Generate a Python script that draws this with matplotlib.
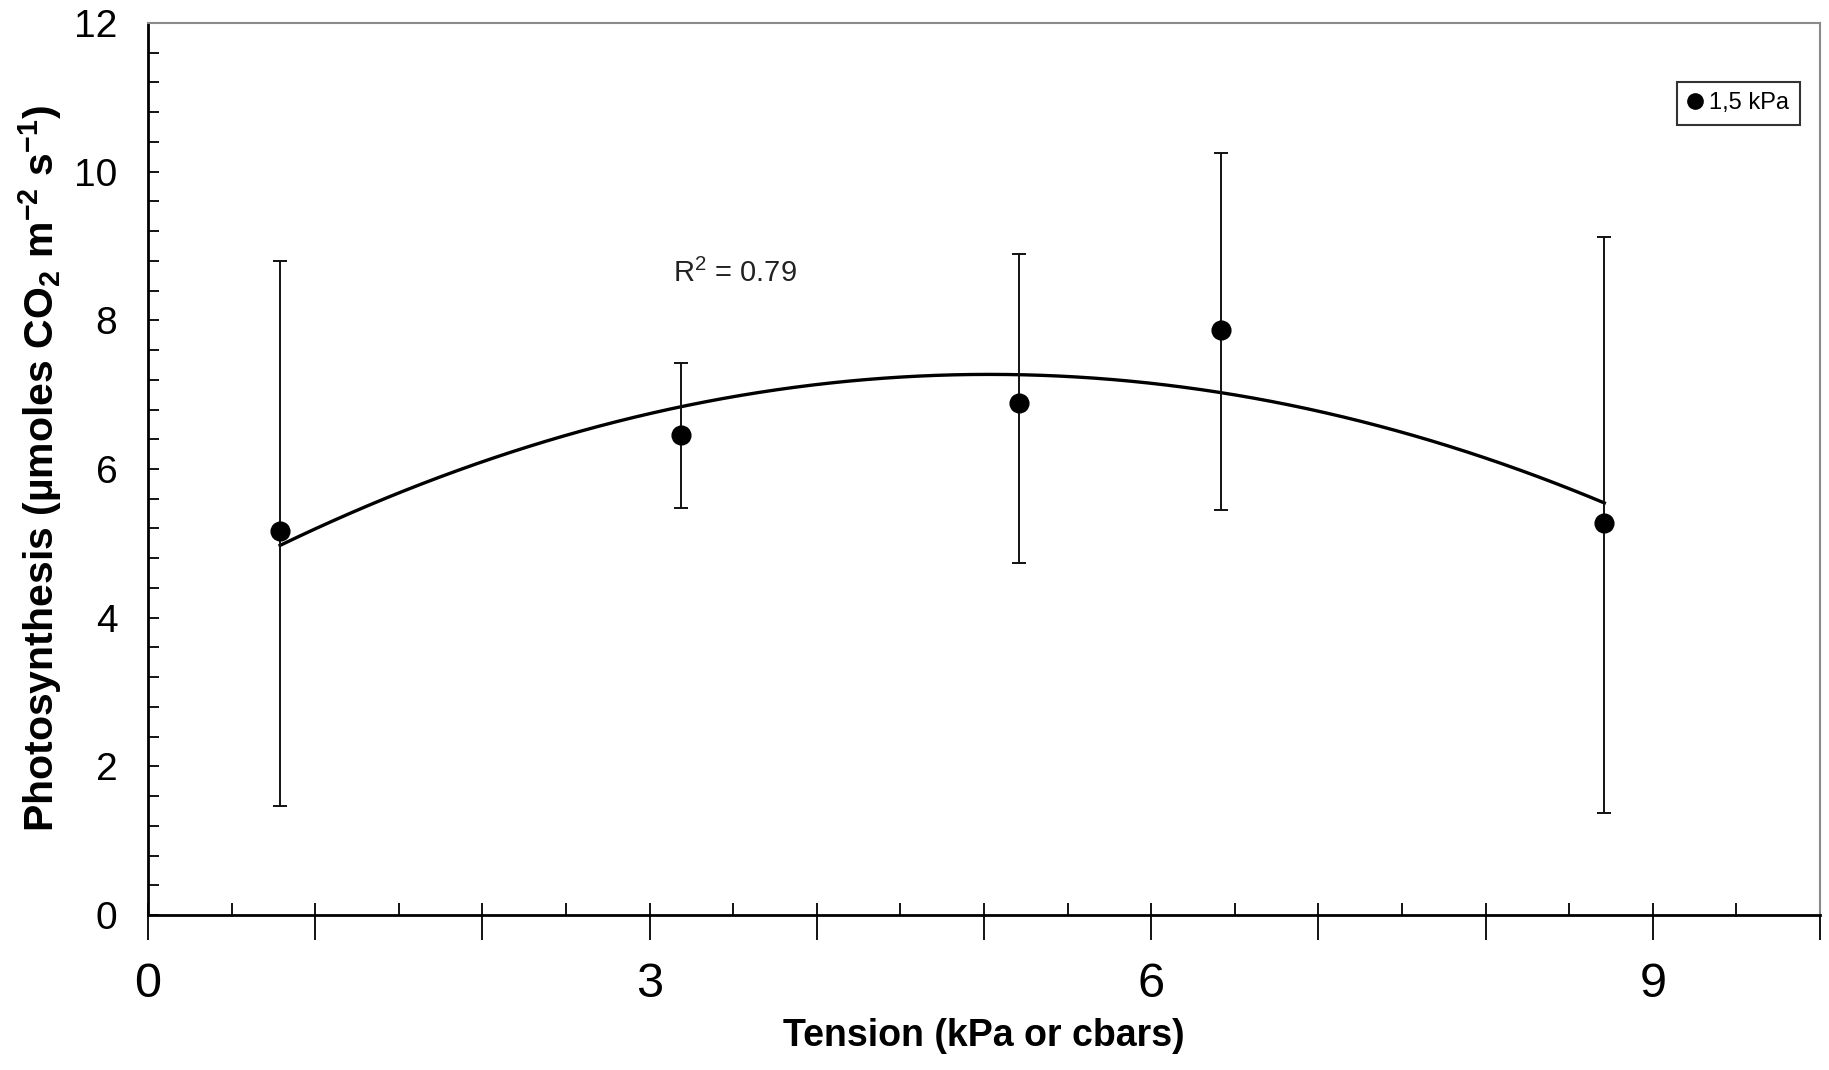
import numpy as np
import matplotlib
matplotlib.use("Agg")
import matplotlib.pyplot as plt
from matplotlib import font_manager as fm
from matplotlib.ticker import MultipleLocator, NullFormatter
from matplotlib.lines import Line2D

# ---- data ----
tension = [0.79, 3.19, 5.21, 6.42, 8.71]
photo = [5.16, 6.46, 6.89, 7.87, 5.27]
err_upper = [8.80, 7.42, 8.89, 10.25, 9.12]   # top of error bars
err_lower = [1.47, 5.47, 4.73, 5.45, 1.37]    # bottom of error bars
series_label = "1,5 kPa"
r2_text = r"R$^2$ = 0.79"
x_tick_labels = ["0", "3", "6", "9"]
x_tick_values = [0, 3, 6, 9]

names = {f.name for f in fm.fontManager.ttflist}
narrow = "Liberation Sans Narrow" if "Liberation Sans Narrow" in names else "Liberation Sans"

plt.rcParams["font.family"] = ["Liberation Sans", "DejaVu Sans"]
plt.rcParams["mathtext.default"] = "regular"

W, H = 1829, 1070
fig = plt.figure(figsize=(W / 100, H / 100), dpi=100)
ax = fig.add_axes([148 / W, 1 - 915 / H, 1672 / W, 892 / H])

x = np.array(tension)
y = np.array(photo)
yerr = np.vstack([y - np.array(err_lower), np.array(err_upper) - y])

# quadratic trendline fitted to the data
coef = np.polyfit(x, y, 2)
xs = np.linspace(x.min(), x.max(), 300)
ax.plot(xs, np.polyval(coef, xs), color="black", lw=2.4, zorder=2)

ax.errorbar(x, y, yerr=yerr, fmt="none", ecolor="#111111", elinewidth=1.4,
            capsize=4.8, capthick=1.4, zorder=3)
ax.plot(x, y, "o", color="black", ms=13.5, zorder=4)

ax.set_xlim(0, 10)
ax.set_ylim(0, 12)

# x ticks: majors every 1 crossing the axis, minors every 0.5 inward
ax.xaxis.remove_overlapping_locs = False
ax.xaxis.set_major_locator(MultipleLocator(1))
ax.xaxis.set_minor_locator(MultipleLocator(0.5))
ax.xaxis.set_major_formatter(NullFormatter())
ax.tick_params(axis="x", which="major", direction="out", length=18, width=1.3,
               labelbottom=False)
ax.tick_params(axis="x", which="minor", direction="in", length=9, width=1.3)
for v, lab in zip(x_tick_values, x_tick_labels):
    ax.text(v, -0.93, lab, ha="center", va="center", fontsize=35,
            family=[narrow, "Liberation Sans"], transform=ax.transData)

# y ticks
ax.yaxis.set_major_locator(MultipleLocator(2))
ax.yaxis.set_minor_locator(MultipleLocator(0.4))
ax.tick_params(axis="y", which="both", direction="in", length=8, width=1.3,
               labelsize=28, pad=22)

for s in ["left", "bottom"]:
    ax.spines[s].set_linewidth(2)
    ax.spines[s].set_color("black")
for s in ["top", "right"]:
    ax.spines[s].set_linewidth(1.5)
    ax.spines[s].set_color("#8a8a8a")

ax.set_xlabel("Tension (kPa or cbars)", fontsize=27, fontweight="bold",
              family=[narrow, "Liberation Sans"], labelpad=0)
ax.xaxis.set_label_coords(0.5, -(1018 - 915) / 892)
ax.set_ylabel(r"Photosynthesis (µmoles CO$_2$ m$^{-2}$ s$^{-1}$)", fontsize=29.5,
              fontweight="bold", family=[narrow, "Liberation Sans"])
ax.yaxis.set_label_coords(-(148 - 64) / 1672, 0.5)

ax.text(3.14, 8.52, r2_text, fontsize=21, color="#222222", ha="left",
        va="baseline")

handle = Line2D([], [], marker="o", ls="none", color="black", ms=11)
leg = ax.legend([handle], [series_label], loc="upper right",
                bbox_to_anchor=(0.988, 0.934), borderaxespad=0, fontsize=17,
                frameon=True, fancybox=False, handlelength=0.6,
                handletextpad=0.3, borderpad=0.45)
leg.get_frame().set_edgecolor("black")
leg.get_frame().set_linewidth(1.5)

fig.savefig("out.png", dpi=100, facecolor="white")
